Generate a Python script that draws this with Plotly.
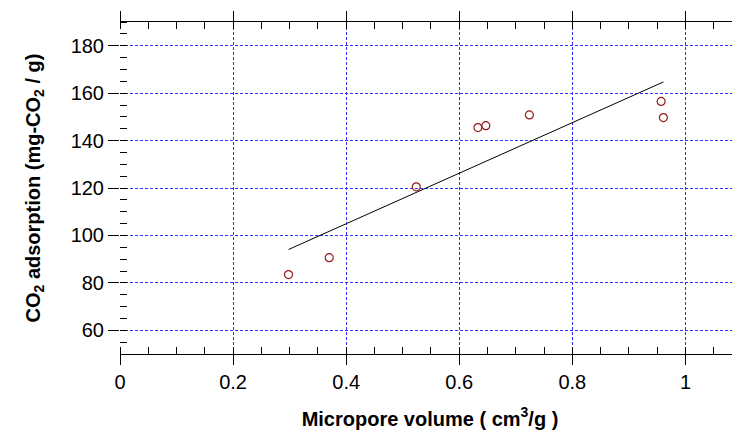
import numpy as np
import plotly.graph_objects as go

micropore_volume = [0.298, 0.370, 0.524, 0.633, 0.647, 0.724, 0.957, 0.961]
co2_adsorption = [83.5, 90.6, 120.5, 145.5, 146.3, 150.8, 156.5, 149.7]

x_tickvals = [0, 0.2, 0.4, 0.6, 0.8, 1.0]
x_ticktext = ["0", "0.2", "0.4", "0.6", "0.8", "1"]
y_tickvals = [60, 80, 100, 120, 140, 160, 180]

# least-squares fit line over the data range
slope, intercept = np.polyfit(micropore_volume, co2_adsorption, 1)
fit_x = [min(micropore_volume), max(micropore_volume)]
fit_y = [intercept + slope * v for v in fit_x]

FONT = "Arial, Liberation Sans, sans-serif"
GRID = "rgb(50,50,255)"

fig = go.Figure()
fig.add_trace(go.Scatter(x=fit_x, y=fit_y, mode="lines",
                         line=dict(color="black", width=1), showlegend=False))
fig.add_trace(go.Scatter(x=micropore_volume, y=co2_adsorption, mode="markers",
                         marker=dict(symbol="circle-open", size=8,
                                     color="rgb(150,25,25)", line=dict(width=1.2)),
                         showlegend=False))

# page body adds an 8px offset, so the figure is sized/margined to compensate
fig.update_layout(
    width=732, height=424,
    margin=dict(l=112, r=0, t=14, b=78),
    paper_bgcolor="white", plot_bgcolor="white",
    font=dict(family=FONT, color="black"),
    xaxis=dict(
        range=[0, 1.0965], tickvals=x_tickvals, ticktext=x_ticktext,
        ticks="outside", ticklen=10, tickwidth=1, tickcolor="black",
        showline=True, linecolor="black", linewidth=1, mirror="ticks",
        showgrid=True, gridcolor=GRID, griddash="3px,2px", gridwidth=1,
        zeroline=False, automargin=False,
        tickfont=dict(size=20, family=FONT),
        minor=dict(dtick=0.05, ticks="inside", ticklen=7, tickcolor="black", showgrid=False),
        title=dict(text="<b>Micropore volume ( cm<sup>3</sup>/g )</b>",
                   font=dict(size=20, family=FONT), standoff=19),
    ),
    yaxis=dict(
        range=[50, 190], tickvals=y_tickvals,
        ticks="outside", ticklen=11, tickwidth=1, tickcolor="black",
        showline=False, mirror="ticks",
        showgrid=True, gridcolor=GRID, griddash="3px,2px", gridwidth=1,
        zeroline=False, automargin=False,
        tickfont=dict(size=20, family=FONT),
        minor=dict(dtick=5, ticks="inside", ticklen=7, tickcolor="black", showgrid=False),
        title=dict(text="<b>CO<sub>2</sub> adsorption (mg-CO<sub>2</sub> / g)</b>",
                   font=dict(size=20, family=FONT), standoff=24),
    ),
)

fig.write_html("out.html")
